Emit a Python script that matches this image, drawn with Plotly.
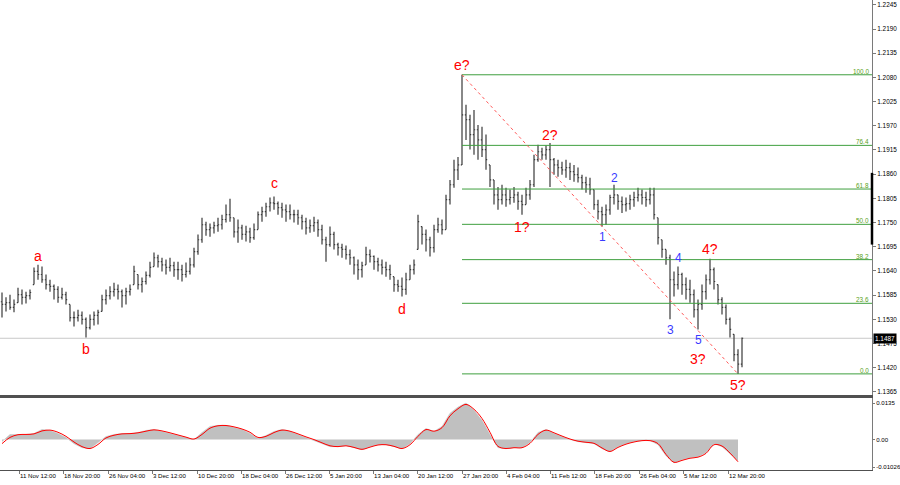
import plotly.graph_objects as go

# ---------------- data ----------------
# time index in H4-bar units; one OHLC bar per 4 H4 bars (16h)
bar_x = [2 + 4 * i for i in range(186)]

high = [
    1.1591, 1.1580, 1.1586, 1.1575, 1.1602, 1.1598, 1.1593, 1.1598, 1.1648, 1.1654,
    1.1650, 1.1632, 1.1620, 1.1609, 1.1605, 1.1602, 1.1593, 1.1564, 1.1548, 1.1552,
    1.1548, 1.1534, 1.1541, 1.1548, 1.1552, 1.1586, 1.1598, 1.1605, 1.1613, 1.1609,
    1.1598, 1.1602, 1.1609, 1.1652, 1.1632, 1.1625, 1.1639, 1.1661, 1.1682, 1.1677,
    1.1670, 1.1666, 1.1670, 1.1661, 1.1661, 1.1654, 1.1659, 1.1670, 1.1693, 1.1723,
    1.1761, 1.1752, 1.1748, 1.1752, 1.1761, 1.1768, 1.1791, 1.1804, 1.1761, 1.1757,
    1.1745, 1.1743, 1.1738, 1.1748, 1.1775, 1.1786, 1.1795, 1.1807, 1.1809, 1.1798,
    1.1795, 1.1791, 1.1791, 1.1779, 1.1779, 1.1768, 1.1761, 1.1757, 1.1763, 1.1757,
    1.1745, 1.1718, 1.1741, 1.1729, 1.1704, 1.1702, 1.1698, 1.1689, 1.1673, 1.1666,
    1.1661, 1.1695, 1.1689, 1.1675, 1.1670, 1.1666, 1.1661, 1.1654, 1.1627, 1.1620,
    1.1625, 1.1636, 1.1654, 1.1666, 1.1768, 1.1741, 1.1734, 1.1718, 1.1745, 1.1761,
    1.1757, 1.1813, 1.1847, 1.1893, 1.1899, 1.2086, 1.2018, 1.1995, 1.2006, 1.1972,
    1.1968, 1.1950, 1.1881, 1.1847, 1.1831, 1.1836, 1.1829, 1.1825, 1.1831, 1.1820,
    1.1813, 1.1829, 1.1847, 1.1904, 1.1927, 1.1920, 1.1925, 1.1931, 1.1897, 1.1893,
    1.1888, 1.1893, 1.1886, 1.1881, 1.1875, 1.1859, 1.1854, 1.1852, 1.1825, 1.1802,
    1.1786, 1.1791, 1.1813, 1.1836, 1.1813, 1.1809, 1.1807, 1.1813, 1.1820, 1.1829,
    1.1825, 1.1820, 1.1829, 1.1829, 1.1761, 1.1711, 1.1689, 1.1677, 1.1639, 1.1650,
    1.1636, 1.1625, 1.1620, 1.1598, 1.1575, 1.1609, 1.1632, 1.1668, 1.1648, 1.1609,
    1.1580, 1.1564, 1.1534, 1.1496, 1.1462, 1.1489,
]
low = [
    1.1534, 1.1548, 1.1552, 1.1546, 1.1568, 1.1564, 1.1566, 1.1575, 1.1609, 1.1620,
    1.1613, 1.1598, 1.1593, 1.1575, 1.1568, 1.1575, 1.1564, 1.1525, 1.1514, 1.1525,
    1.1518, 1.1489, 1.1507, 1.1516, 1.1518, 1.1548, 1.1564, 1.1575, 1.1582, 1.1575,
    1.1557, 1.1564, 1.1584, 1.1609, 1.1598, 1.1591, 1.1609, 1.1625, 1.1650, 1.1648,
    1.1639, 1.1632, 1.1639, 1.1627, 1.1620, 1.1616, 1.1625, 1.1632, 1.1648, 1.1677,
    1.1704, 1.1720, 1.1718, 1.1725, 1.1729, 1.1734, 1.1750, 1.1752, 1.1716, 1.1704,
    1.1711, 1.1707, 1.1704, 1.1711, 1.1734, 1.1752, 1.1763, 1.1775, 1.1779, 1.1768,
    1.1761, 1.1752, 1.1757, 1.1750, 1.1745, 1.1734, 1.1723, 1.1727, 1.1729, 1.1718,
    1.1700, 1.1661, 1.1695, 1.1689, 1.1675, 1.1670, 1.1666, 1.1654, 1.1632, 1.1620,
    1.1625, 1.1654, 1.1659, 1.1643, 1.1639, 1.1632, 1.1627, 1.1620, 1.1593, 1.1593,
    1.1582, 1.1586, 1.1620, 1.1632, 1.1689, 1.1700, 1.1684, 1.1673, 1.1682, 1.1727,
    1.1723, 1.1734, 1.1791, 1.1829, 1.1847, 1.1881, 1.1938, 1.1916, 1.1904, 1.1893,
    1.1899, 1.1870, 1.1831, 1.1791, 1.1779, 1.1791, 1.1786, 1.1791, 1.1795, 1.1779,
    1.1768, 1.1791, 1.1802, 1.1831, 1.1888, 1.1893, 1.1893, 1.1831, 1.1859, 1.1854,
    1.1859, 1.1852, 1.1847, 1.1843, 1.1841, 1.1825, 1.1818, 1.1813, 1.1779, 1.1757,
    1.1741, 1.1745, 1.1768, 1.1791, 1.1779, 1.1772, 1.1775, 1.1779, 1.1786, 1.1798,
    1.1791, 1.1786, 1.1791, 1.1757, 1.1700, 1.1670, 1.1654, 1.1530, 1.1582, 1.1598,
    1.1586, 1.1575, 1.1568, 1.1534, 1.1507, 1.1552, 1.1575, 1.1609, 1.1598, 1.1564,
    1.1541, 1.1518, 1.1489, 1.1435, 1.1406, 1.1421,
]
close = [
    1.1564, 1.1568, 1.1557, 1.1564, 1.1586, 1.1580, 1.1584, 1.1591, 1.1639, 1.1632,
    1.1620, 1.1609, 1.1605, 1.1598, 1.1580, 1.1586, 1.1575, 1.1534, 1.1534, 1.1539,
    1.1530, 1.1511, 1.1530, 1.1539, 1.1546, 1.1575, 1.1584, 1.1593, 1.1598, 1.1593,
    1.1584, 1.1593, 1.1598, 1.1639, 1.1609, 1.1616, 1.1630, 1.1648, 1.1670, 1.1661,
    1.1654, 1.1648, 1.1652, 1.1643, 1.1643, 1.1632, 1.1639, 1.1654, 1.1684, 1.1711,
    1.1745, 1.1734, 1.1738, 1.1743, 1.1745, 1.1757, 1.1768, 1.1761, 1.1729, 1.1738,
    1.1723, 1.1729, 1.1716, 1.1734, 1.1768, 1.1775, 1.1786, 1.1795, 1.1793, 1.1784,
    1.1779, 1.1775, 1.1768, 1.1768, 1.1761, 1.1752, 1.1738, 1.1743, 1.1750, 1.1734,
    1.1711, 1.1700, 1.1723, 1.1700, 1.1693, 1.1689, 1.1677, 1.1670, 1.1654, 1.1643,
    1.1652, 1.1677, 1.1673, 1.1661, 1.1654, 1.1648, 1.1643, 1.1632, 1.1609, 1.1605,
    1.1598, 1.1620, 1.1643, 1.1654, 1.1752, 1.1723, 1.1711, 1.1693, 1.1734, 1.1745,
    1.1734, 1.1802, 1.1836, 1.1870, 1.1881, 1.1995, 1.1984, 1.1950, 1.1961, 1.1938,
    1.1916, 1.1893, 1.1847, 1.1813, 1.1802, 1.1813, 1.1802, 1.1807, 1.1813, 1.1798,
    1.1791, 1.1813, 1.1836, 1.1893, 1.1911, 1.1904, 1.1916, 1.1893, 1.1881, 1.1875,
    1.1870, 1.1875, 1.1866, 1.1859, 1.1852, 1.1841, 1.1836, 1.1825, 1.1791, 1.1775,
    1.1768, 1.1779, 1.1807, 1.1813, 1.1798, 1.1791, 1.1793, 1.1802, 1.1807, 1.1813,
    1.1807, 1.1802, 1.1813, 1.1768, 1.1716, 1.1689, 1.1670, 1.1620, 1.1609, 1.1632,
    1.1609, 1.1598, 1.1586, 1.1552, 1.1564, 1.1593, 1.1620, 1.1643, 1.1616, 1.1575,
    1.1557, 1.1530, 1.1507, 1.1450, 1.1428, 1.1487,
]
first_open = 1.1570

# MACD (12,26,9) sampled every second bar
macd_x = bar_x[::2]
macd_main = [
    -0.00075, 0.00187, 0.00187, 0.00187, 0.00225, 0.00375, 0.00337, 0.00225, 0.00075, -0.0015,
    -0.003, -0.00337, -0.00112, 0.00112, 0.00187, 0.00225, 0.00225, 0.00262, 0.00337, 0.00375,
    0.003, 0.00225, 0.0015, 0.00075, 0.0, 0.00262, 0.00487, 0.00525, 0.00525, 0.0045,
    0.00375, 0.00225, 0.000375, 0.0015, 0.003, 0.00375, 0.003, 0.00187, 0.00075, -0.000375,
    -0.0015, -0.00262, -0.00262, -0.00225, -0.003, -0.00375, -0.00262, -0.00187, -0.00187, -0.00262,
    -0.00337, -0.0015, 0.00187, 0.00412, 0.003, 0.00487, 0.00975, 0.012, 0.0135, 0.01087,
    0.00712, 0.00187, -0.003, -0.00337, -0.003, -0.003, -0.00112, 0.00262, 0.00375, 0.00225,
    0.00112, 0.0, -0.00075, -0.00112, -0.0015, -0.00337, -0.0045, -0.00262, -0.0015, -0.00075,
    -0.000375, -0.000375, -0.00187, -0.006, -0.00862, -0.0075, -0.00675, -0.00637, -0.00487, -0.0015,
    -0.00262, -0.00525, -0.00787,
]
macd_signal = [
    -0.0015, 0.0008, 0.0018, 0.0019, 0.0021, 0.0032, 0.0035, 0.0027, 0.0012, -0.0009,
    -0.0026, -0.0033, -0.0018, 0.0006, 0.0016, 0.0021, 0.0022, 0.0025, 0.0031, 0.0036,
    0.0032, 0.0025, 0.0017, 0.0009, 0.0002, 0.0019, 0.0042, 0.0051, 0.0052, 0.0047,
    0.0039, 0.0027, 0.0008, 0.0012, 0.0026, 0.0035, 0.0031, 0.0021, 0.0010, 0.0000,
    -0.0012, -0.0023, -0.0026, -0.0023, -0.0029, -0.0036, -0.0028, -0.0020, -0.0019, -0.0025,
    -0.0033, -0.0019, 0.0012, 0.0037, 0.0031, 0.0044, 0.0088, 0.0114, 0.0130, 0.0112,
    0.0078, 0.0027, -0.0025, -0.0033, -0.0030, -0.0030, -0.0014, 0.0019, 0.0035, 0.0025,
    0.0013, 0.0002, -0.0006, -0.0010, -0.0014, -0.0031, -0.0044, -0.0029, -0.0017, -0.0009,
    -0.0004, -0.0004, -0.0015, -0.0055, -0.0084, -0.0077, -0.0069, -0.0065, -0.0051, -0.0019,
    -0.0024, -0.0050, -0.0082,
]

date_tick_pos = [19, 63, 108, 152, 197, 241, 285, 329, 373, 417, 462, 506, 550, 594, 639, 683, 728]
date_tick_text = ["11 Nov 12:00", "18 Nov 20:00", "26 Nov 04:00", "3 Dec 12:00", "10 Dec 20:00",
                  "18 Dec 04:00", "26 Dec 12:00", "5 Jan 20:00", "13 Jan 04:00", "20 Jan 12:00",
                  "27 Jan 20:00", "4 Feb 04:00", "11 Feb 12:00", "18 Feb 20:00", "26 Feb 04:00",
                  "5 Mar 12:00", "12 Mar 20:00"]

price_ticks = [1.1365, 1.1420, 1.1475, 1.1530, 1.1585, 1.1640, 1.1695, 1.1750, 1.1805,
               1.1860, 1.1915, 1.1970, 1.2025, 1.2080, 1.2135, 1.2190, 1.2245]
macd_ticks = [0.0135, 0.0, -0.01026]
macd_tick_text = ["0.0135", "0.00", "-0.01026"]

fib_ratios = [0.0, 0.236, 0.382, 0.5, 0.618, 0.764, 1.0]
fib_text = ["0.0", "23.6", "38.2", "50.0", "61.8", "76.4", "100.0"]

# wave labels: (text, bar time index, anchored to bar 'high' or 'low')
wave_red = [("a", 38, "high"), ("b", 86, "low"), ("c", 274, "high"), ("d", 402, "low"),
            ("e?", 462, "high"), ("1?", 522, "low"), ("2?", 550, "high"), ("3?", 698, "low"),
            ("4?", 710, "high"), ("5?", 738, "low")]
wave_blue = [("1", 602, "low"), ("2", 614, "high"), ("3", 670, "low"), ("4", 678, "high"),
             ("5", 698, "low")]

# ---------------- style ----------------
label_shift = {"a": 9, "b": -12, "c": 14, "d": -13, "e?": 10, "1?": -12, "2?": 8, "3?": -30,
               "4?": 10, "5?": -11, "1": -10, "2": 7, "3": -11, "4": 9, "5": -11}
X_END = 872
BAR_COL = "#3a3a3a"
FIB_COL = "#3f9f3f"
AXIS_COL = "#7a7a7a"
FONT_FAM = "Liberation Sans, Arial, sans-serif"
YTICK_FONT = dict(family=FONT_FAM, size=6.4, color="#000000")
MTICK_FONT = dict(family=FONT_FAM, size=6.1, color="#000000")
XTICK_FONT = dict(family=FONT_FAM, size=6.1, color="#000000")

opens = []
prev = first_open
for h, l, c in zip(high, low, close):
    opens.append(min(max(prev, l), h))
    prev = c

fig = go.Figure()
fig.add_trace(go.Ohlc(
    x=bar_x, open=opens, high=high, low=low, close=close,
    increasing=dict(line=dict(color=BAR_COL, width=1.2)),
    decreasing=dict(line=dict(color=BAR_COL, width=1.2)),
    tickwidth=0.3, hoverinfo="skip", xaxis="x", yaxis="y"))

fig.add_trace(go.Scatter(
    x=macd_x, y=macd_main, mode="lines", fill="tozeroy", fillcolor="#c0c0c0",
    line=dict(color="#c0c0c0", width=0.5), hoverinfo="skip", xaxis="x2", yaxis="y2"))
fig.add_trace(go.Scatter(
    x=macd_x, y=macd_signal, mode="lines", line=dict(color="#ff0000", width=1, shape="spline"),
    hoverinfo="skip", xaxis="x2", yaxis="y2"))

# Fibonacci levels from the swing high to the swing low
hi_val = max(high)
lo_val = min(low)
hi_x = bar_x[high.index(hi_val)]
lo_x = bar_x[low.index(lo_val)]
shapes = []
annotations = []
for r, t in zip(fib_ratios, fib_text):
    lvl = lo_val + r * (hi_val - lo_val)
    shapes.append(dict(type="line", xref="x", yref="y", x0=hi_x, x1=X_END, y0=lvl, y1=lvl,
                       line=dict(color=FIB_COL, width=1)))
    annotations.append(dict(xref="paper", yref="y", x=1, y=lvl, xanchor="right", yanchor="bottom",
                            xshift=-1, yshift=-2, text=t, showarrow=False,
                            font=dict(family=FONT_FAM, size=6.4, color="#58a020")))

# trend line high -> low
shapes.append(dict(type="line", xref="x", yref="y", x0=hi_x, y0=hi_val, x1=lo_x, y1=lo_val,
                   line=dict(color="#ff5a5a", width=1, dash="dot")))
# last price line
last = close[-1]
shapes.append(dict(type="line", xref="paper", yref="y", x0=0, x1=1, y0=last, y1=last,
                   layer="below", line=dict(color="#c8c8c8", width=1)))
# scale marker on the price axis
shapes.append(dict(type="line", xref="paper", yref="y", x0=1, x1=1, y0=1.1700, y1=1.1863,
                   line=dict(color="#000000", width=2.5)))

annotations.append(dict(xref="paper", yref="y", x=1, y=last, xanchor="left", yanchor="middle",
                        xshift=1, text=f"{last:.4f}", showarrow=False, bgcolor="#000000",
                        borderpad=1, font=dict(family=FONT_FAM, size=6.4, color="#ffffff")))

for labels, col, size in ((wave_red, "#ff0000", 14), (wave_blue, "#3a3aff", 12)):
    for txt, bx, side in labels:
        i = bar_x.index(bx)
        yv = high[i] if side == "high" else low[i]
        annotations.append(dict(xref="x", yref="y", x=bx, y=yv, xanchor="center",
                                yanchor="middle", yshift=label_shift[txt], text=txt,
                                showarrow=False,
                                font=dict(family=FONT_FAM, size=size, color=col)))

main_bottom = 1 - 395 / 470
macd_top = 72 / 470

fig.update_layout(
    width=900, height=485,
    margin=dict(l=0, r=28, t=0, b=15, autoexpand=False),
    paper_bgcolor="#ffffff", plot_bgcolor="#ffffff",
    showlegend=False,
    shapes=shapes, annotations=annotations,
    xaxis=dict(domain=[0, 1], anchor="y", range=[0, X_END], showticklabels=False, ticks="",
               showgrid=False, zeroline=False, showline=True, linecolor="#505050", linewidth=2,
               automargin=False, rangeslider=dict(visible=False)),
    yaxis=dict(domain=[main_bottom, 1], anchor="x", side="right",
               range=[1.1358, 1.2256], tickvals=price_ticks,
               ticktext=[f"{v:.4f}" for v in price_ticks],
               ticks="outside", ticklen=3, tickcolor=AXIS_COL, tickfont=YTICK_FONT,
               showgrid=False, zeroline=False, showline=True, linecolor=AXIS_COL, linewidth=1,
               automargin=False),
    xaxis2=dict(domain=[0, 1], anchor="y2", matches="x", range=[0, X_END],
                tickvals=date_tick_pos, ticktext=date_tick_text, ticks="outside", ticklen=3,
                tickangle=0, tickcolor=AXIS_COL, tickfont=XTICK_FONT,
                ticklabelposition="outside right",
                showgrid=False, zeroline=False, showline=True, mirror=True,
                linecolor="#505050", linewidth=1, automargin=False,
                rangeslider=dict(visible=False)),
    yaxis2=dict(domain=[0, macd_top], anchor="x2", side="right", range=[-0.01125, 0.01537],
                tickvals=macd_ticks, ticktext=macd_tick_text, ticks="outside", ticklen=2,
                tickcolor=AXIS_COL, tickfont=MTICK_FONT, showgrid=False, zeroline=False,
                showline=True, linecolor=AXIS_COL, linewidth=1, automargin=False),
)

fig.write_html("out.html", config={"displayModeBar": False},
               post_script="document.body.style.margin='0';document.body.style.overflow='hidden';")
